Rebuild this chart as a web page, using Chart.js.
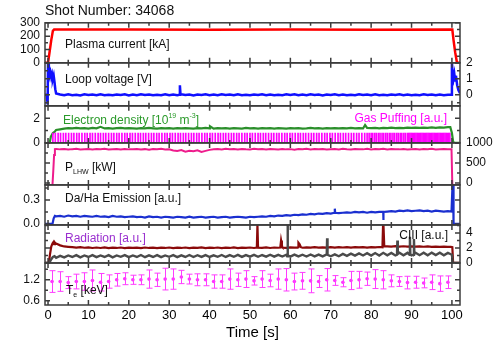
<!DOCTYPE html>
<html>
<head>
<meta charset="utf-8">
<title>Shot 34068</title>
<script src="https://cdn.jsdelivr.net/npm/chart.js@4.4.1/dist/chart.umd.min.js"></script>
<style>
  html, body { margin: 0; padding: 0; background: #fff; }
  #wrap { width: 500px; height: 342px; }
</style>
</head>
<body>
<div id="wrap"><canvas id="shot" width="500" height="342"></canvas></div>
<script>
const FONT = "'Liberation Sans', Arial, sans-serif";
Chart.defaults.color = '#111';

// x axis
const timeTicks = [0, 10, 20, 30, 40, 50, 60, 70, 80, 90, 100];
const timeMarks = [0, 5, 10, 15, 20, 25, 30, 35, 40, 45, 50, 55, 60, 65, 70, 75, 80, 85, 90, 95, 100];

// y ticks per panel (marks / labelled values)
const ipTicks = [0, 50, 100, 150, 200, 250, 300], ipLabels = [0, 100, 200, 300];
const vloopTicks = [-0.5, 0, 0.5, 1, 1.5, 2], vloopLabels = [0, 1, 2];
const neTicks = [0, 1, 2, 3], neLabels = [0, 2];
const lhwTicks = [0, 250, 500, 750, 1000], lhwLabels = [0, 500, 1000];
const daTicks = [0, 0.15, 0.3, 0.45], daLabels = [0, 0.3];
const radTicks = [0, 1, 2, 3, 4, 5], radLabels = [0, 2, 4];
const teTicks = [0.6, 0.9, 1.2, 1.5], teLabels = [0.6, 1.2];

// flat-top sampling times (s)
const sampleTimes = [2, 3, 4, 5, 6, 7, 8, 9, 10, 11, 12, 13, 14, 15, 16, 17, 18, 19, 20, 21,
  22, 23, 24, 25, 26, 27, 28, 29, 30, 31, 32, 33, 34, 35, 36, 37, 38, 39, 40, 41,
  42, 43, 44, 45, 46, 47, 48, 49, 50, 51, 52, 53, 54, 55, 56, 57, 58, 59, 60, 61,
  62, 63, 64, 65, 66, 67, 68, 69, 70, 71, 72, 73, 74, 75, 76, 77, 78, 79, 80, 81,
  82, 83, 84, 85, 86, 87, 88, 89, 90, 91, 92, 93, 94, 95, 96, 97, 98, 99];

// plasma current [kA]
const ipTrace = [[-0.75, 0], [0, 0], [0.4, 85], [0.8, 170], [1.2, 240], [1.5, 249], [20, 249], [40, 248.5],
  [60, 249], [80, 248.5], [100.1, 249], [100.4, 170], [100.8, 80], [101.2, 10], [101.4, 0], [102, 0]];

// loop voltage [V]
const vloopValues = [0.08,
  0.02, -0.03, 0.03, -0.02, 0.01, -0.04, 0.03, -0.01, 0.02, -0.03,
  0.04, -0.02, 0.01, -0.03, 0.02, -0.01, 0.03, -0.04, 0.02, -0.02,
  0.03, -0.01, 0.02, -0.03, 0.01, -0.02, 0.04, -0.03, 0.02, -0.02,
  0.03, -0.01, 0.02, -0.04, 0.02, -0.01, 0.03, -0.02, 0.02, -0.03,
  0.03, -0.01, 0.02, -0.03, 0.04, -0.02, 0.01, -0.03, 0.02, -0.01,
  0.03, -0.02, 0.02, -0.03, 0.01, -0.02, 0.03, -0.01, 0.04, -0.03,
  0.02, -0.02, 0.03, -0.01, 0.02, -0.04, 0.02, -0.01, 0.03, -0.02,
  0.02, -0.03, 0.01, -0.02, 0.03, -0.01, 0.02, -0.03, 0.03, -0.02,
  0.01, -0.03, 0.02, -0.01, 0.03, -0.02, 0.02, -0.03, 0.01, -0.02,
  0.03, -0.01, 0.02, -0.03, 0.02, -0.02, 0.01];
const vloopStart = [[-0.75, 0], [-0.3, 0], [-0.1, -0.6], [0, 2], [0.2, 1.7], [0.4, 1.2], [0.6, 1.4], [0.8, 1.1],
  [1.0, 1.3], [1.2, 1.0], [1.4, 1.2], [1.6, 0.8], [1.8, 0.35]];
const vloopSpikes = [[32.5, 0.0], [32.65, 0.6], [32.8, 0.02]];
const vloopEnd = [[99.8, 0.0], [100.0, 2.0], [100.2, 1.3], [100.4, 1.0], [100.6, 1.3], [100.8, 0.9],
  [101.0, 1.2], [101.3, 0.6], [101.6, 0.3], [102, 0.1]];

// electron density [1e19 m^-3]
const neValues = [1.05, 1.1, 1.15, 1.2, 1.17, 1.22, 1.18, 1.2, 1.16, 1.21,
  1.18, 1.3, 1.17, 1.2, 1.16, 1.19, 1.22, 1.17, 1.2, 1.18,
  1.16, 1.2, 1.17, 1.21, 1.18, 1.15, 1.19, 1.17, 1.2, 1.16,
  1.19, 1.17, 1.2, 1.18, 1.15, 1.19, 1.17, 1.21, 1.18, 1.16,
  1.2, 1.17, 1.19, 1.16, 1.2, 1.18, 1.16, 1.21, 1.17, 1.19,
  1.16, 1.2, 1.17, 1.19, 1.16, 1.2, 1.18, 1.16, 1.19, 1.17,
  1.2, 1.16, 1.18, 1.21, 1.17, 1.19, 1.16, 1.2, 1.17, 1.19,
  1.18, 1.2, 1.17, 1.21, 1.18, 1.2, 1.17, 1.22, 1.19, 1.21,
  1.18, 1.22, 1.2, 1.23, 1.2, 1.22, 1.19, 1.23, 1.21, 1.24,
  1.21, 1.23, 1.22, 1.25, 1.22, 1.26, 1.24, 1.27];
const neStart = [[0.4, 0], [0.7, 0.5], [1.2, 0.8], [1.7, 0.92]];
const neSpikes = [[40.1, 1.35], [78.5, 1.45]];
const neEnd = [[99.6, 1.27], [100.0, 0.8], [100.3, 0.1], [100.6, 0], [102, 0]];

// gas puffing pulses (s) and pulse level [a.u.]
const gasPuffTimes = [1.2, 1.8, 2.5, 3.1, 3.8, 4.4, 5.1, 5.8, 6.4, 7.1, 7.7, 8.4, 9.1, 9.7, 10.4, 11.0, 11.7, 12.4,
  13.0, 13.7, 14.3, 15.0, 15.7, 16.3, 17.0, 17.6, 18.3, 19.0, 19.6, 20.3, 20.9, 21.6, 22.3, 22.9, 23.6, 24.2,
  24.9, 25.6, 26.2, 26.9, 27.5, 28.2, 28.9, 29.5, 30.2, 30.8, 31.5, 32.2, 32.8, 33.5, 34.1, 34.8, 35.5, 36.1,
  36.8, 37.4, 38.1, 38.8, 39.4, 40.1, 40.7, 41.4, 42.1, 42.7, 43.4, 44.0, 44.7, 45.4, 46.0, 46.7, 47.3, 48.0,
  48.7, 49.3, 50.0, 50.6, 51.3, 52.0, 52.6, 53.3, 53.9, 54.6, 55.3, 55.9, 56.6, 57.2, 57.9, 58.6, 59.2, 59.9,
  60.5, 61.2, 61.9, 62.5, 63.2, 63.8, 64.5, 65.2, 65.8, 66.5, 67.1, 67.8, 68.5, 69.1, 69.8, 70.4, 71.1, 71.8,
  72.4, 73.1, 73.7, 74.4, 75.1, 75.7, 76.4, 77.0, 77.7, 78.4, 79.0,
  79.5, 80.0, 80.4, 80.9, 81.3, 81.8, 82.2, 82.7, 83.1, 83.6, 84.0, 84.5, 84.9, 85.4, 85.8, 86.3, 86.7, 87.2,
  87.6, 88.1, 88.5, 89.0,
  89.3, 89.6, 89.9, 90.2, 90.5, 90.8, 91.1, 91.4, 91.7, 92.0, 92.3, 92.6, 92.9, 93.2, 93.5, 93.8, 94.1, 94.4,
  94.7, 95.0, 95.3, 95.6, 95.9, 96.2, 96.5, 96.8, 97.1, 97.4, 97.7, 98.0, 98.3, 98.6, 98.9, 99.2, 99.5];
const gasPuffLevel = 0.8;

// LHW power [kW]
const lhwValues = [850, 838, 846, 832, 844, 851, 836, 842, 848, 834,
  845, 839, 852, 833, 841, 847, 835, 849, 838, 843,
  850, 836, 844, 831, 846, 840, 853, 837, 842,
  812, 795, 820, 780, 805, 790, 815, 775, 800, 825,
  843, 848, 836, 851, 840, 846, 833, 849, 841, 837,
  852, 839, 845, 834, 848, 842, 836, 850, 838, 844,
  831, 847, 840, 853, 836, 845, 839, 850, 834, 843,
  848, 837, 852, 841, 835, 849, 843, 838, 851, 836,
  845, 840, 853, 834, 847, 842, 838, 850, 836, 844,
  849, 837, 846, 841, 852, 835, 844, 848, 840];
const lhwStart = [[-0.75, -50], [1.1, -50], [1.3, 300], [1.5, 700], [1.7, 845]];
const lhwEnd = [[99.9, 842], [100.1, -50], [102, -50]];

// Da/Ha emission [a.u.]
const daValues = [0.095, 0.10, 0.09, 0.105, 0.095, 0.10, 0.09, 0.10, 0.095, 0.09,
  0.10, 0.09, 0.095, 0.085, 0.10, 0.09, 0.095, 0.085, 0.09, 0.095,
  0.085, 0.09, 0.08, 0.095, 0.085, 0.09, 0.08, 0.09, 0.085, 0.08,
  0.09, 0.085, 0.08, 0.09, 0.08, 0.085, 0.09, 0.08, 0.085, 0.09,
  0.08, 0.085, 0.09, 0.08, 0.085, 0.09, 0.085, 0.08, 0.09, 0.085,
  0.09, 0.095, 0.09, 0.10, 0.095, 0.105, 0.10, 0.11, 0.105, 0.115,
  0.11, 0.12, 0.115, 0.125, 0.12, 0.13, 0.125, 0.135, 0.13, 0.14,
  0.135, 0.14, 0.145, 0.14, 0.15, 0.145, 0.15, 0.14, 0.15, 0.145,
  0.15, 0.14, 0.155, 0.16, 0.155, 0.165, 0.16, 0.17, 0.16, 0.165,
  0.17, 0.16, 0.165, 0.155, 0.165, 0.16, 0.155, 0.16];
const daStart = [[-0.75, 0], [1.1, 0], [1.4, 0.07], [1.7, 0.1]];
const daSpikes = [[70.9, 0.14], [71.0, 0.19], [71.1, 0.14], [82.9, 0.15], [83.0, 0.05], [83.1, 0.15]];
const daEnd = [[99.9, 0.155], [100.15, 0.49], [100.3, 0.49], [100.4, 0], [102, 0]];

// radiation [a.u.]
const radValues = [2.6, 2.35, 2.2, 2.15, 2.1, 2.05, 2.1, 2.03, 2.08, 2.0,
  2.06, 2.0, 2.07, 1.98, 2.05, 2.0, 2.06, 1.97, 2.04, 2.0,
  2.05, 1.98, 2.06, 2.0, 2.04, 1.97, 2.05, 2.0, 2.06, 1.98,
  2.04, 2.0, 2.06, 1.98, 2.05, 2.01, 2.07, 1.99, 2.04, 2.0,
  2.06, 1.98, 2.05, 2.0, 2.07, 1.99, 2.05, 2.01, 2.06, 2.0,
  2.07, 2.02, 2.08, 2.0, 2.06, 2.03, 2.1, 2.02, 2.07, 2.04,
  2.1, 2.03, 2.08, 2.05, 2.1, 2.04, 2.09, 2.05, 2.11, 2.04,
  2.1, 2.06, 2.12, 2.05, 2.1, 2.07, 2.12, 2.06, 2.11, 2.07,
  2.13, 2.2, 2.22, 2.18, 2.24, 2.19, 2.23, 2.18, 2.22, 2.17,
  2.21, 2.16, 2.2, 2.15, 2.19, 2.14, 2.18, 2.15];
const radStart = [[-0.75, 0], [0.2, 0], [0.5, 1.2], [0.8, 2.2], [1.1, 2.6], [1.3, 2.75], [1.5, 2.5], [1.7, 2.7], [1.9, 2.55]];
const radSpikes = [[51.7, 2.05], [51.85, 5.07], [52.0, 2.05], [57.5, 2.05], [57.7, 3.0], [57.9, 2.4], [58.1, 2.05],
  [61.8, 2.05], [62.0, 2.7], [62.3, 2.5], [62.6, 2.1], [82.8, 2.1], [82.95, 5.07], [83.1, 5.07], [83.25, 2.2]];
const radEnd = [[99.7, 2.15], [100.1, 2.1], [100.3, 0], [102, 0]];

// CIII [a.u.]
const ciiiValues = [0.7, 0.95, 0.75, 1.0, 0.8, 1.05, 0.75, 1.0, 0.8, 1.05,
  0.78, 1.0, 0.8, 1.05, 0.75, 1.0, 0.82, 1.05, 0.78, 1.0,
  0.8, 1.06, 0.77, 1.02, 0.8, 1.05, 0.78, 1.0, 0.82, 1.04,
  0.78, 1.02, 0.8, 1.06, 0.79, 1.03, 0.81, 1.05, 0.8, 1.02,
  0.82, 1.06, 0.8, 1.04, 0.83, 1.07, 0.81, 1.05, 0.84, 1.08,
  0.83, 1.06, 0.85, 1.1, 0.84, 1.08, 0.86, 1.1, 0.85, 1.12,
  0.87, 1.1, 0.86, 1.13, 0.88, 1.12, 0.87, 1.14, 0.9, 1.15,
  0.9, 1.2, 0.95, 1.25, 0.98, 1.28, 1.0, 1.3, 0.98, 1.32,
  1.0, 1.35, 1.02, 1.33, 1.0, 1.36, 1.03, 1.35, 1.01, 1.37,
  1.04, 1.36, 1.02, 1.38, 1.05, 1.36, 1.03, 1.35];
const ciiiStart = [[-0.75, 0], [0.3, 0], [0.8, 0.5], [1.2, 0.8], [1.6, 0.9]];
const ciiiSpikes = [[59.2, 0.9], [59.3, 5.07], [59.4, 1.0], [69.0, 1.0], [69.1, 3.3], [69.2, 1.1],
  [86.4, 1.1], [86.5, 3.0], [86.6, 1.2], [89.5, 1.1], [89.6, 3.5], [89.7, 1.2], [90.5, 1.1], [90.6, 3.2], [90.7, 1.2]];
const ciiiEnd = [[99.6, 1.2], [100.0, 1.1], [100.2, 0], [102, 0]];

// electron temperature [keV] with error bars
const teTime = [1, 3, 5, 7, 9, 11, 13, 15, 17, 19, 21, 23, 25, 27, 29, 31, 33, 35, 37, 39, 41, 43, 45, 47, 49,
  51, 53, 55, 57, 59, 61, 63, 65, 67, 69, 71, 73, 75, 77, 79, 81, 83, 85, 87, 89, 91, 93, 95, 97, 99];
const teValues = [1.15, 1.15, 1.12, 1.15, 1.15, 1.18, 1.13, 1.15, 1.2, 1.23, 1.2, 1.2, 1.22, 1.2, 1.22, 1.22, 1.28,
  1.22, 1.2, 1.2, 1.15, 1.15, 1.22, 1.2, 1.22,
  1.17, 1.22, 1.18, 1.22, 1.2, 1.15, 1.17, 1.17, 1.15, 1.2, 1.18, 1.13, 1.18, 1.2, 1.23, 1.22, 1.2, 1.17,
  1.15, 1.12, 1.13, 1.11, 1.13, 1.09, 1.13];
const teErrors = [0.31, 0.28, 0.17, 0.21, 0.25, 0.30, 0.25, 0.19, 0.18, 0.17, 0.13, 0.14, 0.26, 0.19, 0.31, 0.29,
  0.19, 0.14, 0.17, 0.17, 0.19, 0.19, 0.29, 0.19, 0.24,
  0.12, 0.24, 0.18, 0.29, 0.32, 0.24, 0.24, 0.34, 0.17, 0.32, 0.14, 0.13, 0.26, 0.24, 0.19, 0.27, 0.26, 0.17,
  0.14, 0.18, 0.17, 0.14, 0.21, 0.22, 0.18];

// panel layout, top to bottom
const panels = [
  { min: 0, max: 300, ticks: ipTicks, labels: ipLabels, side: 'left', h: 40, fmt: v => String(v) },
  { min: -0.69, max: 2, ticks: vloopTicks, labels: vloopLabels, side: 'right', h: 43, fmt: v => String(v) },
  { min: 0, max: 3, ticks: neTicks, labels: neLabels, side: 'left', h: 37, fmt: v => String(v) },
  { min: -50, max: 1000, ticks: lhwTicks, labels: lhwLabels, side: 'right', h: 42, fmt: v => String(v) },
  { min: -0.0125, max: 0.4875, ticks: daTicks, labels: daLabels, side: 'left', h: 40, fmt: v => v.toFixed(1) },
  { min: 0, max: 5.07, ticks: radTicks, labels: radLabels, side: 'right', h: 38, fmt: v => String(v) },
  { min: 0.48, max: 1.68, ticks: teTicks, labels: teLabels, side: 'left', h: 42, fmt: v => v.toFixed(1) }
];

const notes = [
  { panel: 0, dx: 20, dy: 22, color: '#111', parts: [['Plasma current [kA]']] },
  { panel: 1, dx: 20, dy: 17, color: '#111', parts: [['Loop voltage [V]']] },
  { panel: 2, dx: 18, dy: 14.5, color: '#2a9a2a', parts: [['Electron density [10'], ['19', 'sup'], [' m'], ['-3', 'sup'], [']']] },
  { panel: 2, dx: -13, dy: 13, color: '#ff00ff', parts: [['Gas Puffing [a.u.]']] },
  { panel: 3, dx: 20, dy: 25, color: '#111', parts: [['P'], ['LHW', 'sub'], [' [kW]']] },
  { panel: 4, dx: 20, dy: 14, color: '#111', parts: [['Da/Ha Emission [a.u.]']] },
  { panel: 5, dx: 20, dy: 14, color: '#9a2fcf', parts: [['Radiation [a.u.]']] },
  { panel: 5, dx: -12, dy: 11, color: '#111', parts: [['CIII [a.u.]']] },
  { panel: 6, dx: 21, dy: 28, color: '#111', parts: [['T'], ['e', 'sub'], [' [keV]']] }
];

function trace(values, ...extra) {
  const pts = sampleTimes.map((t, i) => ({ x: t, y: values[i] }));
  extra.forEach(list => list.forEach(([x, y]) => pts.push({ x, y })));
  return pts.sort((a, b) => a.x - b.x);
}

const pairs = list => list.map(([x, y]) => ({ x, y }));

const lineSet = (data, color, width, axis) => ({
  type: 'line', data, yAxisID: axis, borderColor: color, borderWidth: width,
  pointRadius: 0, tension: 0, fill: false
});

const scales = {
  x: {
    type: 'linear', position: 'bottom', min: -0.75, max: 102, offset: false,
    grid: { display: false, drawTicks: false }, border: { display: false },
    afterBuildTicks: s => { s.ticks = timeTicks.map(v => ({ value: v })); },
    afterFit: s => { s.height = 37; },
    ticks: { font: { family: FONT, size: 13 }, color: '#000000', padding: 3, maxRotation: 0, autoSkip: false },
    title: { display: true, text: 'Time [s]', font: { family: FONT, size: 15 }, color: '#000000', padding: { top: 0, bottom: 0 } }
  }
};

panels.forEach((p, i) => {
  ['left', 'right'].forEach(side => {
    const id = (side === 'left' ? 'yL' : 'yR') + i;
    scales[id] = {
      type: 'linear', position: side, stack: side, stackWeight: p.h,
      weight: side === 'left' ? 10 - i : i,
      min: p.min, max: p.max,
      grid: { display: false, drawTicks: false }, border: { display: false },
      afterBuildTicks: s => { s.ticks = p.ticks.map(v => ({ value: v })); },
      afterFit: s => { s.width = side === 'left' ? 45 : 40; },
      ticks: {
        display: side === p.side, autoSkip: false, padding: side === 'left' ? 5 : 6,
        font: { family: FONT, size: 12 }, color: '#111111',
        callback: v => p.labels.includes(v) ? p.fmt(v) : ''
      }
    };
  });
});

const errorBars = {
  id: 'errorBars',
  afterDatasetsDraw(chart) {
    const { ctx, scales } = chart;
    const xs = scales.x, ys = scales.yL6;
    ctx.save();
    ctx.strokeStyle = '#ff3cff';
    ctx.lineWidth = 1;
    ctx.beginPath();
    teTime.forEach((t, i) => {
      const px = Math.round(xs.getPixelForValue(t)) + 0.5;
      const top = ys.getPixelForValue(teValues[i] + teErrors[i]);
      const bot = ys.getPixelForValue(teValues[i] - teErrors[i]);
      ctx.moveTo(px, top); ctx.lineTo(px, bot);
      ctx.moveTo(px - 3, top); ctx.lineTo(px + 3, top);
      ctx.moveTo(px - 3, bot); ctx.lineTo(px + 3, bot);
    });
    ctx.stroke();
    ctx.restore();
  }
};

const panelFrame = {
  id: 'panelFrame',
  afterDatasetsDraw(chart) {
    const { ctx, chartArea, scales } = chart;
    const xs = scales.x;
    const left = chartArea.left, right = chartArea.right;
    ctx.save();
    ctx.strokeStyle = '#3c3c3c';
    ctx.lineWidth = 1.5;
    panels.forEach((p, i) => {
      const ys = scales['yL' + i];
      const top = ys.top, bottom = ys.bottom;
      ctx.strokeRect(left, top, right - left, bottom - top);
      ctx.beginPath();
      timeMarks.forEach(v => {
        const px = xs.getPixelForValue(v);
        const len = timeTicks.includes(v) ? 5 : 3;
        ctx.moveTo(px, top); ctx.lineTo(px, top + len);
        ctx.moveTo(px, bottom); ctx.lineTo(px, bottom - len);
      });
      p.ticks.forEach(v => {
        const py = ys.getPixelForValue(v);
        const len = p.labels.includes(v) ? 5 : 3;
        ctx.moveTo(left, py); ctx.lineTo(left + len, py);
        ctx.moveTo(right, py); ctx.lineTo(right - len, py);
      });
      ctx.stroke();
    });
    ctx.restore();
  }
};

function drawRich(ctx, parts, x, y, alignRight, size, color) {
  const small = Math.round(size * 0.62);
  const widths = parts.map(([txt, kind]) => {
    ctx.font = `${kind ? small : size}px ${FONT}`;
    return ctx.measureText(txt).width;
  });
  let cx = alignRight ? x - widths.reduce((a, b) => a + b, 0) : x;
  ctx.fillStyle = color;
  ctx.textAlign = 'left';
  ctx.textBaseline = 'middle';
  parts.forEach(([txt, kind], k) => {
    ctx.font = `${kind ? small : size}px ${FONT}`;
    const off = kind === 'sup' ? -size * 0.38 : kind === 'sub' ? size * 0.38 : 0;
    ctx.fillText(txt, cx, y + off);
    cx += widths[k];
  });
}

const panelNotes = {
  id: 'panelNotes',
  afterDraw(chart) {
    const { ctx, chartArea, scales } = chart;
    ctx.save();
    notes.forEach(n => {
      const ys = scales['yL' + n.panel];
      const alignRight = n.dx < 0;
      const x = alignRight ? chartArea.right + n.dx : chartArea.left + n.dx;
      drawRich(ctx, n.parts, x, ys.top + n.dy, alignRight, 12, n.color);
    });
    ctx.restore();
  }
};

new Chart(document.getElementById('shot'), {
  type: 'line',
  data: {
    datasets: [
      lineSet(pairs(ipTrace), '#ff0000', 2.5, 'yL0'),
      lineSet(trace(vloopValues, vloopStart, vloopSpikes, vloopEnd), '#1010ff', 2.5, 'yR1'),
      {
        type: 'bar', yAxisID: 'yR2', backgroundColor: '#ff00ff', barThickness: 1, grouped: false,
        data: gasPuffTimes.map(t => ({ x: t, y: gasPuffLevel }))
      },
      lineSet(trace(neValues, neStart, neSpikes, neEnd), '#2b8f2b', 2.2, 'yL2'),
      lineSet(trace(lhwValues, lhwStart, lhwEnd), '#ee1c8c', 2, 'yR3'),
      lineSet(trace(daValues, daStart, daSpikes, daEnd), '#1a2fd0', 2.2, 'yL4'),
      lineSet(trace(ciiiValues, ciiiStart, ciiiSpikes, ciiiEnd), '#4a4a4a', 2.4, 'yR5'),
      lineSet(trace(radValues, radStart, radSpikes, radEnd), '#8b0a0a', 2.2, 'yR5'),
      {
        type: 'line', yAxisID: 'yL6', showLine: false, pointRadius: 1.8, pointBorderWidth: 0,
        pointBackgroundColor: '#ff33ff', borderColor: '#ff33ff',
        data: teTime.map((t, i) => ({ x: t, y: teValues[i] }))
      }
    ]
  },
  options: {
    responsive: false,
    devicePixelRatio: 1,
    animation: false,
    events: [],
    layout: { padding: 0 },
    scales,
    plugins: {
      legend: { display: false },
      tooltip: { enabled: false },
      title: {
        display: true, text: 'Shot Number: 34068', align: 'start', fullSize: false,
        font: { family: FONT, size: 14, weight: 'normal' }, color: '#111111',
        padding: { top: 3, bottom: 3 }
      }
    }
  },
  plugins: [errorBars, panelFrame, panelNotes]
});
</script>
</body>
</html>
